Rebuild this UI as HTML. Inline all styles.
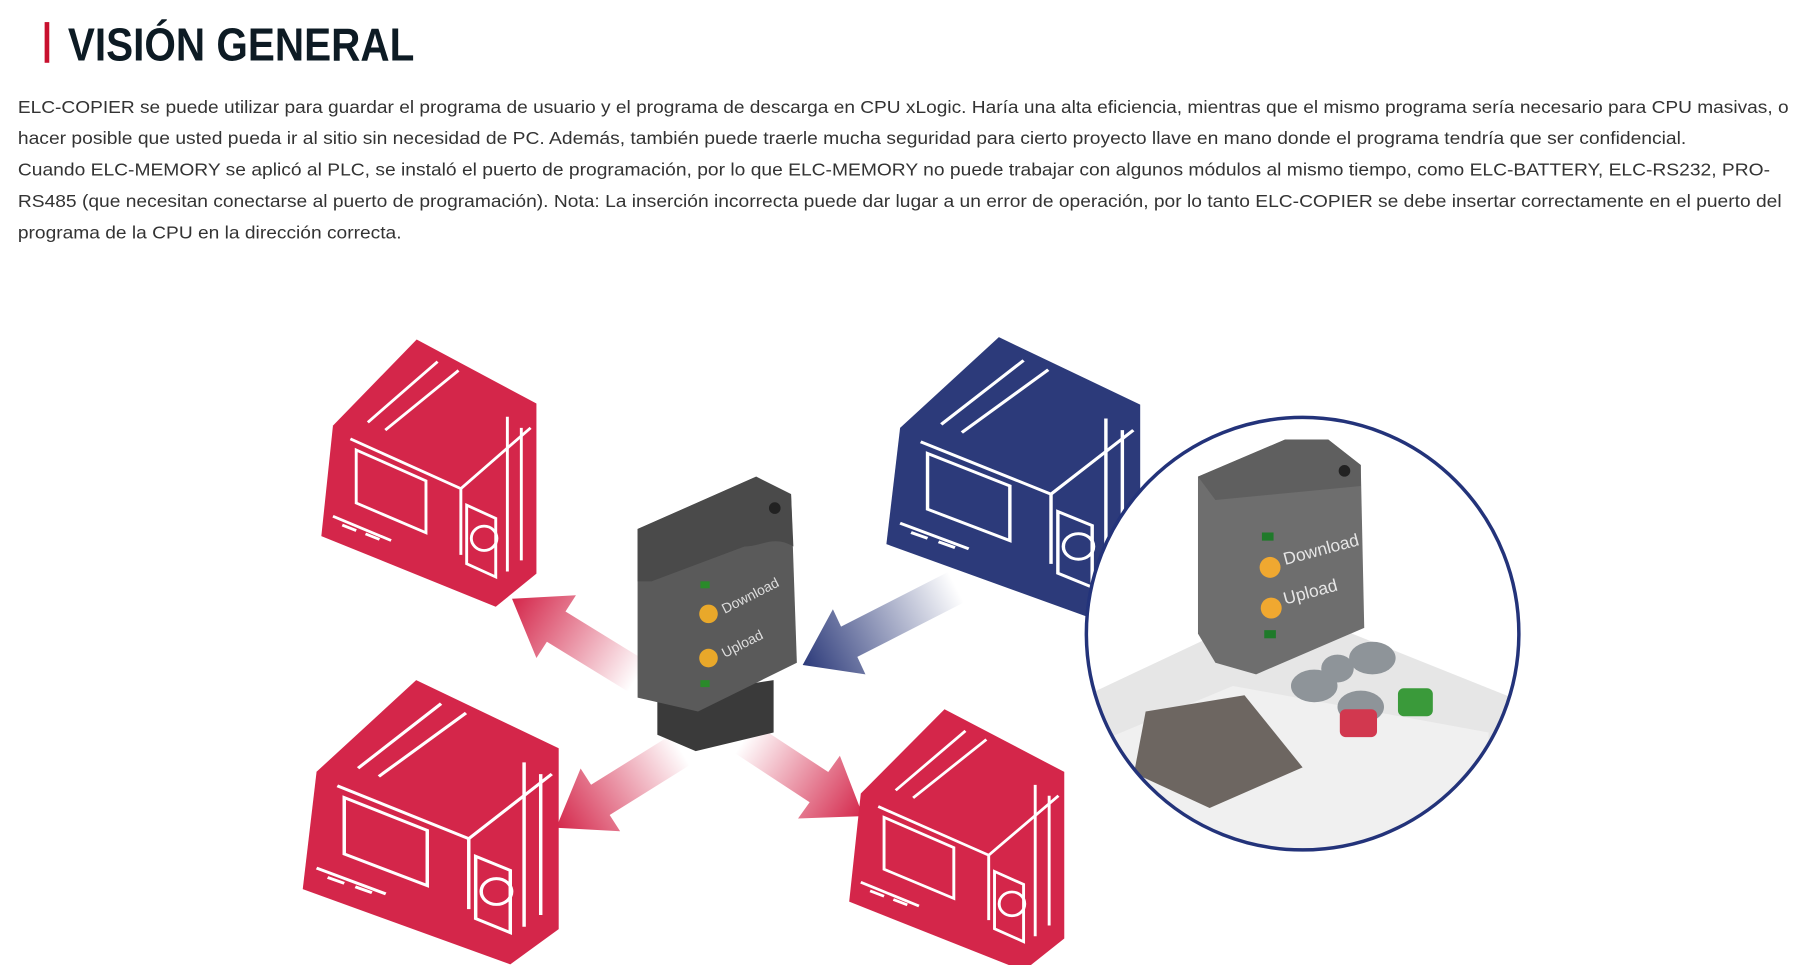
<!DOCTYPE html>
<html><head><meta charset="utf-8"><style>
html,body{margin:0;padding:0;background:#fff;width:1803px;height:965px;overflow:hidden}
svg{display:block}
.t{font-family:"Liberation Sans",sans-serif;font-size:15px;fill:#333}
</style></head><body>
<svg width="1803" height="965" viewBox="0 0 1550 830" xmlns="http://www.w3.org/2000/svg">
<defs>
<g id="plc">
<path d="M10,78 L82,0 L185,58 L185,212 L150,242 L0,178 Z"/>
<g fill="none" stroke="#fff" stroke-width="2.5">
<path d="M25,90 L120,135 L120,195"/>
<path d="M30,100 L90,128 L90,175 L30,148 Z"/>
<path d="M40,75 L100,20 M55,82 L118,28 M120,135 L180,80"/>
<path d="M125,150 L150,162 L150,215 L125,203 Z"/>
<circle cx="140" cy="180" r="11"/>
<path d="M10,160 L60,182 M18,168 L30,173 M38,176 L50,181"/>
<path d="M160,70 L160,210 M172,80 L172,200"/>
</g>
</g>
<linearGradient id="gr1" gradientUnits="userSpaceOnUse" x1="548" y1="582" x2="440" y2="515"><stop offset="0" stop-color="#d4264a" stop-opacity="0"/><stop offset="1" stop-color="#d4264a"/></linearGradient>
<linearGradient id="gr2" gradientUnits="userSpaceOnUse" x1="585" y1="645" x2="478" y2="712"><stop offset="0" stop-color="#d4264a" stop-opacity="0"/><stop offset="1" stop-color="#d4264a"/></linearGradient>
<linearGradient id="gr3" gradientUnits="userSpaceOnUse" x1="640" y1="635" x2="742" y2="702"><stop offset="0" stop-color="#d4264a" stop-opacity="0"/><stop offset="1" stop-color="#d4264a"/></linearGradient>
<linearGradient id="gb" gradientUnits="userSpaceOnUse" x1="822" y1="505" x2="690" y2="572"><stop offset="0" stop-color="#2c3a7a" stop-opacity="0"/><stop offset="1" stop-color="#2c3a7a"/></linearGradient>
<clipPath id="cc"><circle cx="1120" cy="545" r="186"/></clipPath>
</defs>
<rect x="38" y="19" width="4" height="35" fill="#c8102e"/>
<text x="58" y="52" font-family="Liberation Sans,sans-serif" font-weight="bold" font-size="40" fill="#0d1b24" textLength="298" lengthAdjust="spacingAndGlyphs">VISIÓN GENERAL</text>
<text class="t" x="15" y="97" textLength="1523" lengthAdjust="spacingAndGlyphs">ELC-COPIER se puede utilizar para guardar el programa de usuario y el programa de descarga en CPU xLogic. Haría una alta eficiencia, mientras que el mismo programa sería necesario para CPU masivas, o</text>
<text class="t" x="15" y="124" textLength="1435" lengthAdjust="spacingAndGlyphs">hacer posible que usted pueda ir al sitio sin necesidad de PC. Además, también puede traerle mucha seguridad para cierto proyecto llave en mano donde el programa tendría que ser confidencial.</text>
<text class="t" x="15" y="151" textLength="1507" lengthAdjust="spacingAndGlyphs">Cuando ELC-MEMORY se aplicó al PLC, se instaló el puerto de programación, por lo que ELC-MEMORY no puede trabajar con algunos módulos al mismo tiempo, como ELC-BATTERY, ELC-RS232, PRO-</text>
<text class="t" x="15" y="178" textLength="1517" lengthAdjust="spacingAndGlyphs">RS485 (que necesitan conectarse al puerto de programación). Nota: La inserción incorrecta puede dar lugar a un error de operación, por lo tanto ELC-COPIER se debe insertar correctamente en el puerto del</text>
<text class="t" x="15" y="205" textLength="330" lengthAdjust="spacingAndGlyphs">programa de la CPU en la dirección correcta.</text>

<use href="#plc" fill="#d4264a" transform="translate(276,292) scale(1,0.95)"/>
<use href="#plc" fill="#2c3a7a" transform="translate(762,290) scale(1.18,1)"/>
<use href="#plc" fill="#d4264a" transform="translate(260,585) scale(1.19,1.01)"/>
<use href="#plc" fill="#d4264a" transform="translate(730,610) scale(1,0.93)"/>

<!-- arrows -->
<path d="M556,569 L486,526 L495,512 L440,515 L461,566 L470,552 L540,595 Z" fill="url(#gr1)"/>
<path d="M593,658 L524,701 L533,715 L478,712 L499,661 L508,675 L577,632 Z" fill="url(#gr2)"/>
<path d="M648,622 L712,664 L722,650 L742,702 L686,704 L696,690 L632,648 Z" fill="url(#gr3)"/>
<path d="M829,518 L737,565 L744,580 L690,572 L716,524 L723,539 L815,492 Z" fill="url(#gb)"/>

<!-- center device -->
<path d="M565,600 L665,585 L665,630 L598,646 L565,632 Z" fill="#3a3a3a"/>
<path d="M548,455 L650,410 L680,425 L685,570 L600,612 L548,600 Z" fill="#5a5a5a"/>
<path d="M548,455 L650,410 L680,425 L682,470 C665,460 655,470 640,470 L560,500 L548,500 Z" fill="#4a4a4a"/>
<circle cx="666" cy="437" r="5" fill="#222"/>
<rect x="602" y="500" width="8" height="6" fill="#2a8a2a"/>
<rect x="602" y="585" width="8" height="6" fill="#2a8a2a"/>
<circle cx="609" cy="528" r="8" fill="#e9a82a"/>
<circle cx="609" cy="566" r="8" fill="#e9a82a"/>
<text x="623" y="528" transform="rotate(-27 623 528)" font-family="Liberation Sans,sans-serif" font-size="12" fill="#ddd">Download</text>
<text x="623" y="566" transform="rotate(-27 623 566)" font-family="Liberation Sans,sans-serif" font-size="12" fill="#ddd">Upload</text>

<!-- circle photo -->
<g clip-path="url(#cc)">
<rect x="930" y="355" width="380" height="380" fill="#fff"/>
<path d="M930,600 L1100,520 L1300,600 L1310,735 L930,735 Z" fill="#e6e6e6"/>
<path d="M940,640 L1060,590 L1280,630 L1280,700 L1150,735 L930,735 Z" fill="#f0f0f0"/>
<path d="M985,612 L1070,598 L1120,660 L1040,695 L975,665 Z" fill="#6d6661"/>
<ellipse cx="1130" cy="590" rx="20" ry="14" fill="#8e9499"/>
<ellipse cx="1180" cy="566" rx="20" ry="14" fill="#8e9499"/>
<ellipse cx="1150" cy="575" rx="14" ry="12" fill="#8e9499"/>
<ellipse cx="1170" cy="608" rx="20" ry="14" fill="#8e9499"/>
<rect x="1152" y="610" width="32" height="24" rx="5" fill="#d2384f"/>
<rect x="1202" y="592" width="30" height="24" rx="5" fill="#3a9a3a"/>
<path d="M1030,410 L1105,378 L1142,378 L1170,400 L1173,540 L1080,580 L1045,570 L1030,545 Z" fill="#6e6e6e"/>
<path d="M1030,410 L1105,378 L1142,378 L1170,400 L1170,418 L1045,430 Z" fill="#5f5f5f"/>
<circle cx="1156" cy="405" r="5" fill="#222"/>
<rect x="1085" y="458" width="10" height="7" fill="#1f7a2a"/>
<rect x="1087" y="542" width="10" height="7" fill="#1f7a2a"/>
<circle cx="1092" cy="488" r="9" fill="#f0a830"/>
<circle cx="1093" cy="523" r="9" fill="#f0a830"/>
<text x="1105" y="486" transform="rotate(-15 1105 486)" font-family="Liberation Sans,sans-serif" font-size="15" fill="#e6e6e6">Download</text>
<text x="1105" y="520" transform="rotate(-15 1105 520)" font-family="Liberation Sans,sans-serif" font-size="15" fill="#e6e6e6">Upload</text>
</g>
<circle cx="1120" cy="545" r="186" fill="none" stroke="#23337a" stroke-width="3"/>
</svg>
</body></html>
